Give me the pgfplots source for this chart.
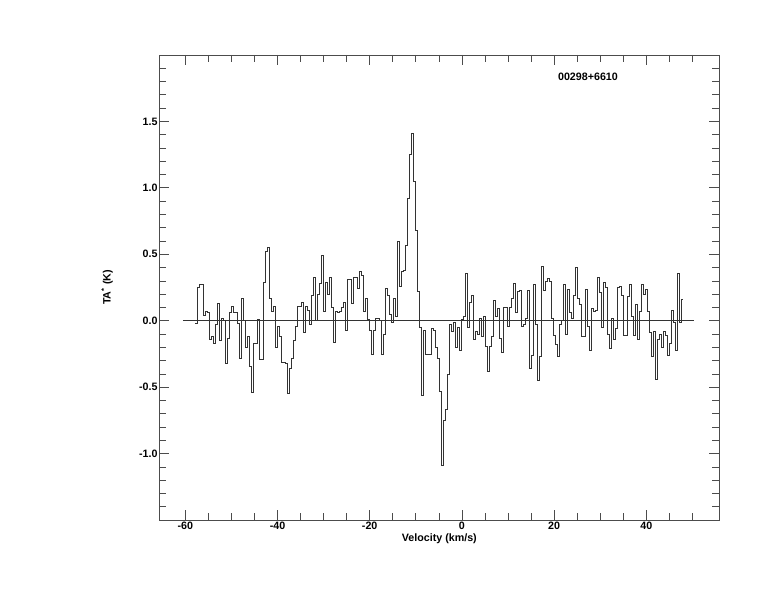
\documentclass[border=0pt]{standalone}
\usepackage{fontspec}
\setmainfont{Liberation Sans}
\usepackage{pgfplots}
\pgfplotsset{compat=1.18}

% spectrum: left edge of each channel (km/s), antenna temperature (K)
\pgfplotstableread{
v T
-57.83 -0.02
-57.40 0.25
-56.97 0.27
-56.53 0.275
-56.10 0.04
-55.67 0.07
-55.23 0.06
-54.80 -0.14
-54.36 -0.12
-53.93 -0.17
-53.50 -0.03
-53.06 0.13
-52.63 -0.15
-52.20 0.02
-51.76 0.0
-51.33 -0.32
-50.89 -0.13
-50.46 0.06
-50.03 0.11
-49.59 0.06
-49.16 0.06
-48.73 -0.02
-48.29 -0.28
-47.86 0.17
-47.42 0.0
-46.99 -0.20
-46.56 -0.12
-46.12 -0.34
-45.69 -0.54
-45.26 -0.17
-44.82 -0.17
-44.39 0.01
-43.96 -0.29
-43.52 -0.29
-43.09 0.29
-42.65 0.52
-42.22 0.55
-41.79 0.17
-41.35 0.07
-40.92 0.11
-40.49 -0.20
-40.05 -0.04
-39.62 -0.12
-39.18 -0.31
-38.75 -0.31
-38.32 -0.32
-37.88 -0.55
-37.45 -0.36
-37.02 -0.28
-36.58 -0.15
-36.15 -0.04
-35.72 0.11
-35.28 0.11
-34.85 0.14
-34.41 -0.09
-33.98 0.11
-33.55 0.08
-33.11 -0.03
-32.68 0.19
-32.25 0.33
-31.81 0.0
-31.38 0.20
-30.94 0.28
-30.51 0.49
-30.08 0.07
-29.64 0.29
-29.21 0.20
-28.78 0.33
-28.34 0.10
-27.91 -0.16
-27.47 0.07
-27.04 0.06
-26.61 0.07
-26.17 0.10
-25.74 0.14
-25.31 -0.07
-24.87 0.31
-24.44 0.31
-24.01 0.13
-23.57 0.33
-23.14 0.33
-22.70 0.24
-22.27 0.37
-21.84 0.34
-21.40 0.07
-20.97 0.17
-20.54 0.01
-20.10 -0.07
-19.67 -0.25
-19.23 -0.07
-18.80 0.02
-18.37 0.02
-17.93 0.0
-17.50 -0.25
-17.07 -0.10
-16.63 0.24
-16.20 0.19
-15.76 0.05
-15.33 -0.01
-14.90 0.17
-14.46 0.03
-14.03 0.60
-13.60 0.26
-13.16 0.37
-12.73 0.38
-12.30 0.57
-11.86 0.92
-11.43 1.25
-10.99 1.41
-10.56 1.05
-10.13 0.68
-9.69 0.22
-9.26 -0.05
-8.83 -0.56
-8.39 -0.07
-7.96 -0.25
-7.52 -0.25
-7.09 -0.25
-6.66 -0.06
-6.22 -0.07
-5.79 -0.20
-5.36 -0.28
-4.92 -0.53
-4.49 -1.09
-4.05 -0.75
-3.62 -0.67
-3.19 -0.40
-2.75 -0.03
-2.32 -0.08
-1.89 -0.01
-1.45 -0.20
-1.02 -0.05
-0.59 -0.22
-0.15 0.01
0.28 0.03
0.72 0.36
1.15 -0.05
1.58 0.14
2.02 0.19
2.45 -0.14
2.88 -0.08
3.32 -0.10
3.75 0.02
4.19 -0.12
4.62 0.03
5.05 -0.19
5.49 -0.38
5.92 -0.19
6.35 -0.12
6.79 0.15
7.22 0.03
7.66 0.09
8.09 -0.13
8.52 -0.24
8.96 0.10
9.39 0.10
9.82 -0.04
10.26 0.10
10.69 0.17
11.12 0.28
11.56 0.06
11.99 0.22
12.43 0.23
12.86 -0.04
13.29 -0.03
13.73 0.015
14.16 0.23
14.59 -0.36
15.03 -0.26
15.46 0.275
15.90 -0.03
16.33 -0.45
16.76 -0.27
17.20 0.41
17.63 0.23
18.06 0.30
18.50 0.32
18.93 0.30
19.36 0.015
19.80 -0.11
20.23 -0.18
20.67 -0.27
21.10 -0.03
21.53 0.0
21.97 0.275
22.40 -0.10
22.83 0.235
23.27 0.06
23.70 0.02
24.14 0.19
24.57 0.40
25.00 0.17
25.44 0.12
25.87 -0.12
26.30 -0.12
26.74 0.235
27.17 -0.04
27.61 -0.22
28.04 0.09
28.47 0.07
28.91 0.08
29.34 0.33
29.77 0.21
30.21 -0.05
30.64 0.29
31.07 0.25
31.51 -0.10
31.94 -0.21
32.38 0.015
32.81 -0.14
33.24 -0.06
33.68 0.25
34.11 0.26
34.54 0.19
34.98 -0.11
35.41 -0.11
35.85 0.18
36.28 0.27
36.71 0.03
37.15 -0.11
37.58 0.12
38.01 -0.14
38.45 0.07
38.88 0.27
39.32 0.20
39.75 0.235
40.18 0.07
40.62 -0.09
41.05 -0.27
41.48 -0.08
41.92 -0.44
42.35 -0.14
42.78 -0.10
43.22 -0.20
43.65 -0.08
44.09 -0.11
44.52 -0.26
44.95 -0.17
45.39 0.08
45.82 -0.01
46.25 -0.22
46.69 0.36
47.12 -0.01
47.56 0.16
47.99 0.16
}\spectrum

\begin{document}
\begin{tikzpicture}[x=1bp,y=1bp]
\begin{axis}[
  name=ax, at={(0,0)}, anchor=south west,
  scale only axis, width=560bp, height=465bp,
  xmin=-65.63, xmax=55.82, ymin=-1.5, ymax=2.0,
  font=\fontsize{10.7bp}{12bp}\selectfont\bfseries,
  /pgf/number format/assume math mode=true,
  axis line style={black!70, line width=0.7bp},
  every tick/.style={black!70, line width=0.7bp},
  tick align=inside,
  xtick pos=both, ytick pos=both,
  xticklabel pos=left, yticklabel pos=left,
  xtick={-60,-40,-20,0,20,40},
  minor xtick={-55,-50,-45,-35,-30,-25,-15,-10,-5,5,10,15,25,30,35,45,50},
  xticklabel style={inner ysep=1.5bp},
  ytick={-1,-0.5,0,0.5,1,1.5},
  yticklabel style={inner xsep=1.5bp, /pgf/number format/fixed,
                    /pgf/number format/fixed zerofill,
                    /pgf/number format/precision=1},
  minor ytick={-1.4,-1.3,-1.2,-1.1,-0.9,-0.8,-0.7,-0.6,-0.4,-0.3,-0.2,-0.1,
               0.1,0.2,0.3,0.4,0.6,0.7,0.8,0.9,1.1,1.2,1.3,1.4,1.6,1.7,1.8,1.9},
  major tick length=10bp, minor tick length=7bp,
  xlabel={Velocity (km/s)},
  xlabel style={at={(axis description cs:0.5,-0.0398)}, anchor=center},
  ylabel={TA\textsuperscript{*} (K)},
  ylabel style={at={(axis description cs:-0.093,0.5)}, anchor=center},
  title={00298+6610},
  title style={at={(axis description cs:0.7655,0.941)}, anchor=center},
]
\addplot[black!80, line width=0.7bp] coordinates {(-60.5,0) (50.4,0)};
\addplot[const plot, black!80, line width=0.7bp] table[x=v, y=T] {\spectrum};
\end{axis}
\pgfresetboundingbox
\path[use as bounding box] (ax.south west) ++(-159.3,-92) rectangle ++(774,612);
\end{tikzpicture}
\end{document}
